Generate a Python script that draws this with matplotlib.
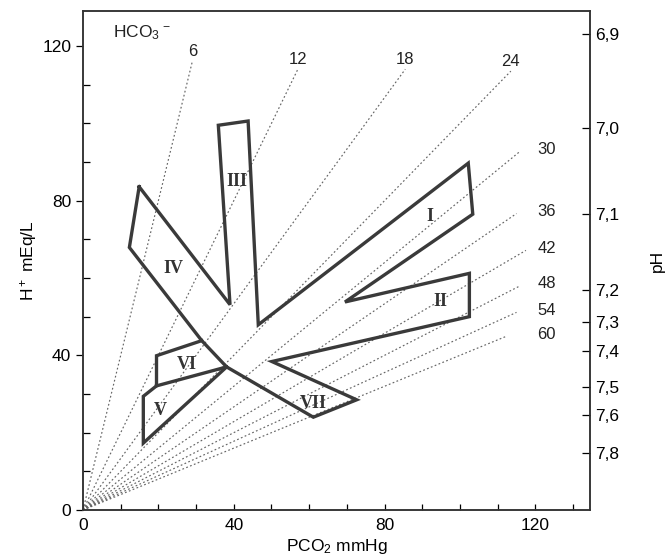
import matplotlib
matplotlib.use("Agg")
import matplotlib.pyplot as plt
from matplotlib.ticker import MultipleLocator

plt.rcParams['font.family'] = ['Liberation Sans', 'DejaVu Sans']
plt.rcParams['mathtext.fontset'] = 'custom'
plt.rcParams['mathtext.rm'] = 'Liberation Sans'
plt.rcParams['mathtext.it'] = 'Liberation Sans'
plt.rcParams['mathtext.default'] = 'regular'

# isopleths of bicarbonate, H+ = 24 * PCO2 / HCO3
hco3 = [6, 12, 18, 24, 30, 36, 42, 48, 54, 60]
line_end_pco2 = [29, 57, 85.5, 113.5, 116, 115, 117.5, 116, 115, 112]

# outer outline of the bands (PCO2 mmHg, H+ mEq/L)
outline_pco2 = [14.9, 39.0, 35.9, 43.8, 46.5, 102.2, 103.4, 69.5, 102.5, 102.5,
                50.1, 72.6, 61.1, 38.1, 31.5, 12.3, 14.9]
outline_h = [83.6, 53.1, 99.5, 100.6, 47.9, 89.7, 76.5, 53.8, 61.2, 50.0,
             38.4, 28.5, 24.0, 37.0, 43.8, 67.9, 83.6]
# bands V and VI
low_pco2 = [38.1, 16.0, 16.0, 19.5, 19.5, 31.5]
low_h = [37.0, 17.3, 29.4, 32.1, 39.9, 43.8]
divider_pco2 = [19.5, 38.1]
divider_h = [32.1, 37.0]

region_names = ['I', 'II', 'III', 'IV', 'V', 'VI', 'VII']
region_pco2 = [91.9, 94.7, 40.8, 24.0, 20.4, 27.5, 61.1]
region_h = [75.9, 53.8, 85.0, 62.5, 25.8, 37.6, 27.5]

ph_labels = ['6,9', '7,0', '7,1', '7,2', '7,3', '7,4', '7,5', '7,6', '7,8']
ph_at_h = [123.2, 98.9, 76.6, 57.0, 48.5, 41.0, 31.8, 24.6, 14.7]

fig = plt.figure(figsize=(6.71, 5.6), dpi=100)
ax = fig.add_axes([0.1237, 0.0893, 0.7556, 0.8907])
ax.set_xlim(0, 134.5)
ax.set_ylim(0, 129)

dark = '#3a3a3a'
for i, (b, xe) in enumerate(zip(hco3, line_end_pco2)):
    ye = 24 * xe / b
    ax.plot([0, xe], [0, ye], color='#666666', lw=0.85, ls=(0, (1.5, 2)))
    if i < 4:
        ax.text(xe, ye + 2.5, str(b), ha='center', va='center', fontsize=12, color='#222')
    else:
        ax.text(120.5, ye + 0.5, str(b), ha='left', va='center', fontsize=12, color='#222')

ax.plot(outline_pco2, outline_h, color=dark, lw=2.4, solid_joinstyle='miter')
ax.plot(low_pco2, low_h, color=dark, lw=2.4, solid_joinstyle='miter')
ax.plot(divider_pco2, divider_h, color=dark, lw=2.4)

for name, x, y in zip(region_names, region_pco2, region_h):
    ax.text(x, y, name, ha='center', va='center', fontsize=13, fontweight='bold',
            family='Liberation Serif', color='#333')

ax.text(8, 123.5, r'HCO$_3$$^{\,-}$', ha='left', va='center', fontsize=12.5, color='#222')

ax.set_xticks([0, 40, 80, 120])
ax.set_yticks([0, 40, 80, 120])
ax.xaxis.set_minor_locator(MultipleLocator(10))
ax.yaxis.set_minor_locator(MultipleLocator(10))
ax.tick_params(axis='x', which='both', direction='in', length=4, width=0.9, labelsize=12.5, pad=6)
ax.tick_params(axis='y', which='major', direction='out', length=5, width=0.9, labelsize=12.5)
ax.tick_params(axis='y', which='minor', direction='in', length=5, width=0.9)
for s in ax.spines.values():
    s.set_linewidth(1.1)
    s.set_color('#333')

ax.set_xlabel('PCO$_2$ mmHg', fontsize=12.5, labelpad=3)
ax.set_ylabel('H$^+$ mEq/L', fontsize=12.5, labelpad=2)

ax2 = ax.twinx()
ax2.set_ylim(ax.get_ylim())
ax2.set_yticks(ph_at_h)
ax2.set_yticklabels(ph_labels)
ax2.tick_params(axis='y', direction='in', length=6, width=0.9, labelsize=12.5, pad=4)
ax2.set_ylabel('pH', fontsize=12.5, labelpad=22)
for s in ax2.spines.values():
    s.set_linewidth(1.1)
    s.set_color('#333')

fig.savefig('out.png', dpi=100)
